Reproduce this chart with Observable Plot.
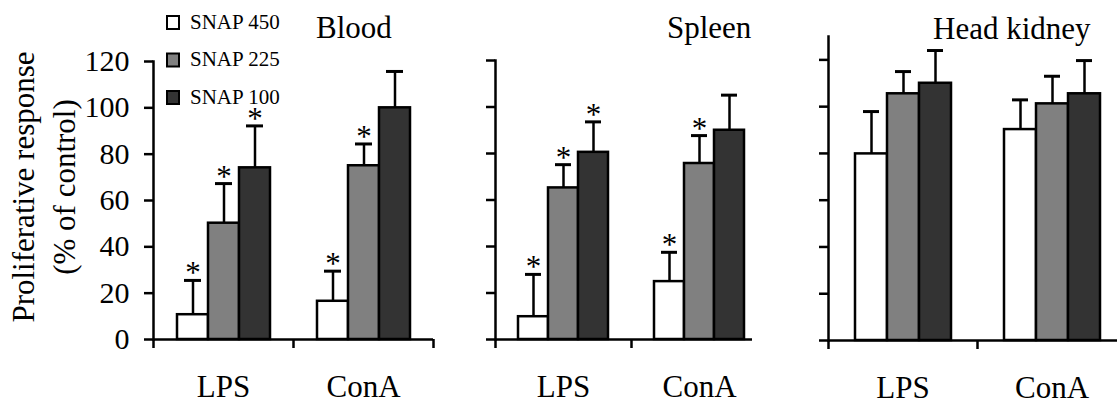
<!DOCTYPE html>
<html>
<head>
<meta charset="utf-8">
<script src="https://cdn.jsdelivr.net/npm/d3@7"></script>
<script src="https://cdn.jsdelivr.net/npm/@observablehq/plot@0.6"></script>
<style>
  html, body { margin: 0; padding: 0; background: #fff; overflow: hidden; }
  #root { position: relative; width: 1117px; height: 401px; overflow: hidden; background: #fff; }
  .panel { position: absolute; top: 0; height: 401px; }
  #root svg, #root text { font-family: "Liberation Serif", "Times New Roman", Times, serif !important; }
</style>
</head>
<body>
<div id="root"></div>
<script>
// ---------- data ----------
const series = ["SNAP 450", "SNAP 225", "SNAP 100"];
const seriesColors = ["#ffffff", "#808080", "#333333"];
const categories = ["LPS", "ConA"];
const yTicks = [0, 20, 40, 60, 80, 100, 120];
const panelTitles = ["Blood", "Spleen", "Head kidney"];
const yTitle = ["Proliferative response", "(% of control)"];

// mean values [LPS, ConA] x [SNAP 450, SNAP 225, SNAP 100]
const bloodValues  = [[10.7, 50.2, 74.1], [16.5, 75.0, 100.0]];
const bloodErrors  = [[14.8, 17.1, 18.1], [13.0, 9.4, 15.7]];
const bloodStars   = [[1, 1, 1], [1, 1, 0]];

const spleenValues = [[9.8, 65.2, 80.5], [24.9, 75.7, 90.0]];
const spleenErrors = [[18.2, 10.0, 13.1], [12.6, 12.0, 15.1]];
const spleenStars  = [[1, 1, 1], [1, 1, 0]];

const kidneyValues = [[79.8, 105.5, 110.0], [90.2, 101.2, 105.5]];
const kidneyErrors = [[18.1, 9.5, 14.0], [12.7, 11.8, 14.2]];
const kidneyStars  = [[0, 0, 0], [0, 0, 0]];

// ---------- drawing ----------
const FONT = "Liberation Serif, Times New Roman, Times, serif";
const root = document.getElementById("root");

function rowsOf(values, errors, stars) {
  const rows = [];
  categories.forEach((c, ci) => series.forEach((s, si) => rows.push({
    category: c, series: s, value: values[ci][si], err: errors[ci][si], star: stars[ci][si] === 1
  })));
  return rows;
}

function panel(cfg) {
  const rows = rowsOf(cfg.values, cfg.errors, cfg.stars);
  const upper = d => d.value + d.err;
  const sw = 2.5;
  const marks = [
    Plot.barY(rows, {fx: "category", x: "series", y: "value", fill: "series", stroke: "#000", strokeWidth: sw}),
    Plot.ruleX(rows, {fx: "category", x: "series", y1: "value", y2: upper, stroke: "#000", strokeWidth: sw}),
    Plot.tickY(rows, {fx: "category", x: "series", y: upper, stroke: "#000", strokeWidth: 3, insetLeft: cfg.capInset, insetRight: cfg.capInset}),
    Plot.text(rows.filter(d => d.star), {fx: "category", x: "series", y: upper, text: () => "*", fontSize: 31, fontFamily: FONT, lineAnchor: "bottom", dy: 3, fill: "#000"}),
    Plot.ruleY([0], {stroke: "#000", strokeWidth: sw}),
    Plot.frame({anchor: "left", facetAnchor: "left", stroke: "#000", strokeWidth: sw}),
    Plot.axisY({ticks: yTicks, tickSize: 9, tickPadding: 15, fontSize: 30, fontFamily: FONT, fill: "#000",
      stroke: "#000", strokeWidth: sw, label: null, tickFormat: cfg.showLabels ? (d => String(d)) : (() => "")}),
    Plot.axisFx({anchor: "bottom", tickSize: 9, tickFormat: () => "", dx: -cfg.halfBand, stroke: "#000", strokeWidth: sw, label: null}),
    Plot.axisFx({anchor: "bottom", tickSize: 0, tickPadding: 35, fontSize: 31, fontFamily: FONT, fill: "#000", label: null})
  ];
  if (cfg.rightTick) {
    marks.push(Plot.axisFx({anchor: "bottom", ticks: [categories[categories.length - 1]], tickSize: 9, tickFormat: () => "", dx: cfg.halfBand, stroke: "#000", strokeWidth: sw, label: null}));
  }
  return Plot.plot({
    width: cfg.width, height: 401,
    marginLeft: cfg.marginLeft, marginRight: cfg.marginRight,
    marginTop: cfg.marginTop, marginBottom: cfg.marginBottom,
    style: {background: "transparent", maxWidth: "none", overflow: "visible", fontFamily: FONT, color: "#000"},
    fx: {domain: categories, padding: 0, axis: null},
    x: {domain: series, paddingInner: 0, paddingOuter: cfg.paddingOuter, axis: null},
    y: {domain: [0, cfg.yMax], axis: null},
    color: {domain: series, range: seriesColors},
    marks
  });
}

function place(svg, left, clipWidth) {
  const div = document.createElement("div");
  div.className = "panel";
  div.style.left = left + "px";
  if (clipWidth) { div.style.width = clipWidth + "px"; div.style.overflow = "hidden"; }
  div.appendChild(svg);
  root.appendChild(div);
}

place(panel({values: bloodValues, errors: bloodErrors, stars: bloodStars, yMax: 120,
  width: 445, marginLeft: 153, marginRight: 12, marginTop: 61, marginBottom: 62,
  paddingOuter: 0.758, halfBand: 70, capInset: 7, showLabels: true, rightTick: true}), 0);

place(panel({values: spleenValues, errors: spleenErrors, stars: spleenStars, yMax: 120,
  width: 310, marginLeft: 35, marginRight: 3, marginTop: 60, marginBottom: 62,
  paddingOuter: 0.694, halfBand: 68, capInset: 7, showLabels: false, rightTick: false}), 460, 292);

place(panel({values: kidneyValues, errors: kidneyErrors, stars: kidneyStars, yMax: 130,
  width: 336, marginLeft: 38, marginRight: 0, marginTop: 36, marginBottom: 61,
  paddingOuter: 0.758, halfBand: 74.5, capInset: 8, showLabels: false, rightTick: false}), 790);

// ---------- titles, legend, axis title (overlay) ----------
const overlay = d3.create("svg")
  .attr("width", 1117).attr("height", 401)
  .style("position", "absolute").style("left", "0px").style("top", "0px")
  .style("pointer-events", "none");

const txt = () => overlay.append("text").attr("font-family", FONT).attr("fill", "#000");

const titlePos = [[316, 38], [667, 38], [933, 39]];
panelTitles.forEach((t, i) => txt()
  .attr("x", titlePos[i][0]).attr("y", titlePos[i][1])
  .attr("font-size", 31).text(t));

series.forEach((s, i) => {
  const y0 = 16 + i * 37.5;
  overlay.append("rect").attr("x", 167).attr("y", y0).attr("width", 12).attr("height", 13)
    .attr("fill", seriesColors[i]).attr("stroke", "#000").attr("stroke-width", 2);
  txt().attr("x", 190).attr("y", y0 + 12.5).attr("font-size", 21).text(s);
});

[34, 75].forEach((x, i) => txt()
  .attr("transform", `translate(${x},187) rotate(-90)`)
  .attr("text-anchor", "middle").attr("font-size", 31).text(yTitle[i]));

root.appendChild(overlay.node());
</script>
</body>
</html>
